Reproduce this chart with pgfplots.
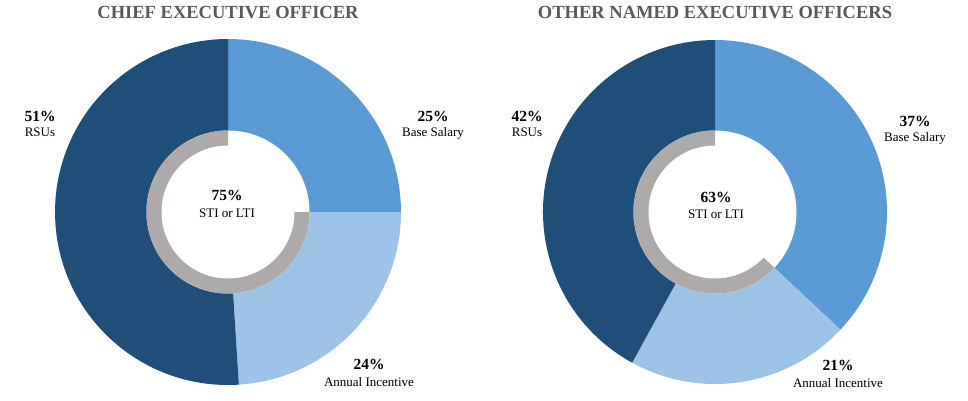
\documentclass[border=0pt]{standalone}
\usepackage{pgfplots}
\pgfplotsset{compat=1.18}
\usepackage{fontspec}
\setmainfont{Liberation Serif}
\definecolor{cdark}{HTML}{1F4E79}
\definecolor{cmid}{HTML}{5B9BD5}
\definecolor{clight}{HTML}{9DC3E6}
\definecolor{cgray}{HTML}{AEAAAA}
\definecolor{ctitle}{HTML}{595959}
% Shares (percent)
% CEO: Base Salary 25, Annual Incentive 24, RSUs 51, STI or LTI 75
% Other NEOs: Base Salary 37, Annual Incentive 21, RSUs 42, STI or LTI 63
\newcommand{\slice}[6]{% cx, cy, r, start, end, colour
  \fill[#6] (axis cs:#1,#2) -- (axis cs:{#1+#3*cos(#4)},{#2+#3*sin(#4)})
     arc[start angle={#4}, end angle={#5}, radius=#3] -- cycle;}
\newcommand{\pct}[1]{\fontsize{15.5}{17}\selectfont\bfseries #1}
\newcommand{\lab}[1]{\fontsize{13}{15}\selectfont #1}
\begin{document}
\begin{tikzpicture}
\begin{axis}[
  scale only axis, width=968pt, height=400pt,
  xmin=0, xmax=968, ymin=0, ymax=400,
  hide axis, clip=false]
% ---- CEO ----
\slice{228}{188}{173}{90}{90-3.6*25}{cmid}
\slice{228}{188}{173}{90-3.6*25}{90-3.6*(25+24)}{clight}
\slice{228}{188}{173}{90-3.6*(25+24)}{-270}{cdark}
\fill[white] (axis cs:228,188) circle[radius=81.5];
\slice{228}{188}{81.5}{90}{90+3.6*75}{cgray}
\fill[white] (axis cs:228,188) circle[radius=66.5];
% ---- Other NEOs ----
\slice{715}{188}{172}{90}{90-3.6*37}{cmid}
\slice{715}{188}{172}{90-3.6*37}{90-3.6*(37+21)}{clight}
\slice{715}{188}{172}{90-3.6*(37+21)}{-270}{cdark}
\fill[white] (axis cs:715,188) circle[radius=81.5];
\slice{715}{188}{81.5}{90}{90+3.6*63}{cgray}
\fill[white] (axis cs:715,188) circle[radius=66.5];
% ---- titles ----
\node[anchor=base, text=ctitle, font=\fontsize{18.5}{20}\selectfont\bfseries] at (axis cs:228,381.5) {CHIEF EXECUTIVE OFFICER};
\node[anchor=base, text=ctitle, font=\fontsize{18.5}{20}\selectfont\bfseries] at (axis cs:715,381.5) {OTHER NAMED EXECUTIVE OFFICERS};
% ---- labels CEO ----
\node[anchor=base] at (axis cs:40,278.5) {\pct{51\%}};
\node[anchor=base] at (axis cs:40,264) {\lab{RSUs}};
\node[anchor=base] at (axis cs:433,278.5) {\pct{25\%}};
\node[anchor=base] at (axis cs:433,264) {\lab{Base Salary}};
\node[anchor=base] at (axis cs:369,30.5) {\pct{24\%}};
\node[anchor=base] at (axis cs:369,14) {\lab{Annual Incentive}};
\node[anchor=base] at (axis cs:227,199.5) {\pct{75\%}};
\node[anchor=base] at (axis cs:227,183) {\lab{STI or LTI}};
% ---- labels NEOs ----
\node[anchor=base] at (axis cs:527,278.5) {\pct{42\%}};
\node[anchor=base] at (axis cs:527,264) {\lab{RSUs}};
\node[anchor=base] at (axis cs:915,273.5) {\pct{37\%}};
\node[anchor=base] at (axis cs:915,259) {\lab{Base Salary}};
\node[anchor=base] at (axis cs:838,29.5) {\pct{21\%}};
\node[anchor=base] at (axis cs:838,13) {\lab{Annual Incentive}};
\node[anchor=base] at (axis cs:716,197.5) {\pct{63\%}};
\node[anchor=base] at (axis cs:716,182) {\lab{STI or LTI}};
\end{axis}
\pgfresetboundingbox
\path (current axis.south west) rectangle (current axis.north east);
\end{tikzpicture}
\end{document}
